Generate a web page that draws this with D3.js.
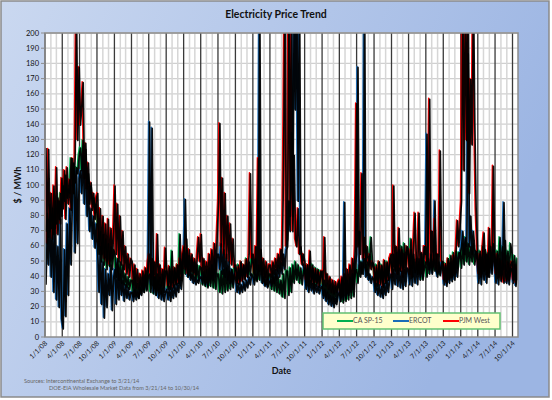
<!DOCTYPE html>
<html><head><meta charset="utf-8">
<script src="https://cdn.jsdelivr.net/npm/d3@7"></script>
<style>body{margin:0;} svg{display:block;font-family:Lato,"Open Sans",sans-serif;}</style>
</head><body><svg id="c" width="552" height="400"></svg>
<script>
// ---- data (weekly readings from 2008-01-01) ----
const startDate = "2008-01-01";
const endDate = "2014-10-30";
const stepDays = 7;
const seriesNames = ["CA SP-15", "ERCOT", "PJM West"];
const yTickValues = [0,10,20,30,40,50,60,70,80,90,100,110,120,130,140,150,160,170,180,190,200];

const pjmWest = [
125,62,124,70,95,65,100,72,112,68,90,75,105,
85,110,78,112,88,104,84,118,95,120,215,130,178,
140,153,168,105,128,98,115,88,102,84,95,78,92,
95,60,85,55,80,52,75,50,78,48,72,52,70,
100,55,88,50,80,48,70,45,60,42,55,40,52,
50,35,48,33,45,32,42,34,44,35,46,38,50,
55,40,52,38,50,36,68,35,48,34,45,33,59,
45,34,47,32,44,33,46,35,48,36,52,38,55,
60,45,65,42,58,44,55,43,52,41,54,66,50,
68,42,52,40,50,38,55,40,58,42,62,45,68,
90,141,60,105,55,95,52,80,50,75,48,65,46,
48,36,46,35,50,37,48,38,51,40,55,108,52,
55,42,60,45,118,44,58,42,52,40,50,38,48,
48,40,50,42,52,44,55,46,58,48,118,230,60,
65,230,80,230,70,120,65,60,85,55,60,48,55,
50,38,48,36,57,37,46,35,45,36,44,34,42,
44,35,66,34,42,32,40,30,38,29,37,30,36,
38,28,40,30,42,32,45,34,48,35,52,38,60,
154,60,70,55,108,52,66,50,60,48,55,45,50,
48,36,46,34,50,35,47,33,51,36,49,38,52,
55,40,100,45,60,42,72,44,58,40,55,42,60,
55,42,58,40,62,82,50,45,82,44,56,42,60,
60,48,75,157,50,70,48,78,46,55,44,123,50,
50,38,48,36,52,38,50,40,54,42,58,77,60,
75,90,230,110,230,130,230,95,170,127,230,141,85,
60,42,55,40,58,69,45,55,40,72,50,45,113,
58,42,55,40,52,38,50,36,48,37,50,38,48,
50,38,48,36,46,40];

const ercot = [
35,70,48,80,40,75,30,85,25,60,20,78,12,
6,58,14,75,28,85,48,98,115,56,110,62,105,
110,95,120,88,124,80,100,70,85,65,80,59,75,
55,30,60,22,50,13,45,20,42,28,48,18,40,
45,22,50,25,42,28,38,24,35,26,33,25,30,
30,24,32,25,30,26,33,28,36,30,40,32,45,
142,35,138,30,40,28,38,26,35,25,33,24,30,
32,25,34,24,33,26,35,27,36,30,40,32,42,
55,91,48,40,45,38,42,36,40,35,38,36,40,
40,36,42,35,40,34,45,36,48,38,52,40,55,
55,45,62,42,58,40,55,38,50,36,45,35,42,
38,30,36,29,35,30,37,31,38,33,40,35,42,
40,35,42,38,45,230,55,36,40,34,38,33,36,
38,34,40,36,45,38,48,40,50,42,55,45,58,
60,90,70,135,80,230,150,230,90,230,60,50,48,
42,32,40,30,38,31,36,29,35,30,34,29,33,
34,26,32,24,30,22,28,21,27,20,26,22,28,
30,24,32,25,89,26,36,28,38,30,42,32,48,
55,178,45,50,42,48,230,40,45,38,42,36,40,
38,30,36,28,35,27,34,26,36,28,38,30,40,
42,32,45,35,48,34,46,33,44,32,45,34,46,
45,35,48,34,50,36,48,35,52,38,55,40,60,
55,134,50,45,55,42,50,90,45,40,48,42,50,
44,35,42,34,45,36,46,37,48,38,50,40,52,
55,60,70,55,65,60,187,60,80,55,70,58,55,
50,36,48,35,52,38,50,36,54,40,56,42,58,
48,36,46,35,50,37,48,89,45,36,44,35,46,
45,36,44,34,42,38];

const caSP15 = [
70,82,66,88,72,85,68,90,75,92,78,95,80,
100,90,107,92,98,95,118,100,105,102,112,108,120,
125,110,130,105,118,100,108,95,100,88,92,82,88,
75,55,70,50,68,48,65,45,62,47,60,45,58,
55,40,52,38,50,36,48,35,42,33,40,32,38,
38,27,40,28,36,26,38,29,40,30,42,31,40,
42,30,44,29,40,28,42,30,40,29,42,30,44,
44,32,46,33,57,34,46,35,48,36,68,38,52,
55,42,58,40,54,40,52,40,50,38,48,38,47,
46,35,44,34,45,33,46,34,48,33,45,32,42,
42,30,44,29,45,30,46,31,44,32,45,33,46,
46,36,48,37,50,38,48,39,52,40,50,41,52,
50,38,52,37,48,38,50,36,46,35,44,34,42,
42,32,44,31,42,30,40,29,38,27,42,26,44,
44,28,46,30,48,36,50,38,48,36,46,35,44,
46,35,48,34,50,35,48,33,46,34,45,33,44,
40,28,38,27,36,26,35,25,34,24,33,24,34,
36,24,38,23,36,24,38,25,40,26,42,27,44,
45,36,48,40,50,42,52,44,50,42,54,66,48,
46,34,48,35,50,36,48,34,50,36,50,38,52,
50,42,55,44,56,43,58,45,60,46,62,48,60,
58,44,65,46,55,43,52,42,50,40,48,38,46,
50,40,52,42,54,43,55,44,52,42,50,41,49,
50,40,49,39,52,42,54,43,56,45,57,46,56,
56,46,62,48,66,50,62,48,60,50,62,48,57,
54,42,57,43,60,44,58,42,56,43,60,45,62,
54,43,57,44,66,46,60,45,64,44,57,43,62,
56,42,54,40,52,43];

const sourceLines = ["Sources: Intercontinental Exchange  to 3/21/14",
                     "DOE-EIA Wholesale Market Data from 3/21/14 to 10/30/14"];

// ---- drawing ----
const svg = d3.select("#c");
const W = 552, H = 400;
const m = {l:45, r:518, t:33, b:337};
const parse = d3.timeParse("%Y-%m-%d");
const t0 = parse(startDate), t1 = parse(endDate);

const x = d3.scaleTime().domain([t0, t1]).range([m.l, m.r]);
const y = d3.scaleLinear().domain([0, 200]).range([m.b, m.t]);

const defs = svg.append("defs");
const g = defs.append("linearGradient").attr("id","bg").attr("x1","0").attr("y1","0").attr("x2","1").attr("y2","0.35");
g.append("stop").attr("offset","0").attr("stop-color","#cad8f0");
g.append("stop").attr("offset","1").attr("stop-color","#9cb5e3");
defs.append("clipPath").attr("id","clip").append("rect")
  .attr("x",m.l).attr("y",m.t).attr("width",m.r-m.l).attr("height",m.b-m.t);

svg.append("rect").attr("x",1).attr("y",1).attr("width",W-4).attr("height",H-4)
  .attr("fill","url(#bg)").attr("stroke","#8a8a8a").attr("stroke-width",1.5);

svg.append("rect").attr("x",m.l).attr("y",m.t).attr("width",m.r-m.l).attr("height",m.b-m.t).attr("fill","#fff");

// horizontal gridlines
svg.append("g").selectAll("line").data(yTickValues.slice(1)).join("line")
  .attr("x1",m.l).attr("x2",m.r).attr("y1",d=>y(d)).attr("y2",d=>y(d))
  .attr("stroke","#d0d0d0").attr("stroke-width",1.3);

// vertical gridlines
const months = d3.timeMonth.range(d3.timeMonth.ceil(t0), t1);
const quarters = months.filter(d => d.getMonth() % 3 === 0);
svg.append("g").selectAll("line").data(months.filter(d=>d.getMonth()%3!==0)).join("line")
  .attr("x1",d=>x(d)).attr("x2",d=>x(d)).attr("y1",m.t).attr("y2",m.b)
  .attr("stroke","#d6d6d6").attr("stroke-width",1.5);
svg.append("g").selectAll("line").data(quarters).join("line")
  .attr("x1",d=>x(d)).attr("x2",d=>x(d)).attr("y1",m.t).attr("y2",m.b)
  .attr("stroke","#3a3a3a").attr("stroke-width",1.3);

// series
const colors = ["#00b050", "#1a6cb8", "#ff0000"];
const seriesVals = [caSP15, ercot, pjmWest];
const toPts = vals => vals.map((v,i) => [d3.timeDay.offset(t0, i*stepDays), v]);
const line = d3.line().x(d=>x(d[0])).y(d=>y(d[1]));
const sg = svg.append("g").attr("clip-path","url(#clip)");
seriesVals.forEach((vals,i) => {
  sg.append("path").attr("d", line(toPts(vals))).attr("fill","none")
    .attr("stroke",colors[i]).attr("stroke-width",1.5).attr("stroke-linejoin","round");
});
const shg = sg.append("g").attr("transform","translate(1,1)");
seriesVals.forEach((vals,i) => {
  shg.append("path").attr("d", line(toPts(vals))).attr("fill","none")
    .attr("stroke","#000").attr("stroke-width",1.7).attr("stroke-opacity",0.95).attr("stroke-linejoin","round");
});

// plot border
svg.append("rect").attr("x",m.l).attr("y",m.t).attr("width",m.r-m.l).attr("height",m.b-m.t)
  .attr("fill","none").attr("stroke","#8c8c8c").attr("stroke-width",1.5);

// y axis
const ya = svg.append("g");
ya.selectAll("line").data(yTickValues).join("line")
  .attr("x1",m.l-4).attr("x2",m.l).attr("y1",d=>y(d)).attr("y2",d=>y(d)).attr("stroke","#8c8c8c");
ya.selectAll("text").data(yTickValues).join("text")
  .attr("x",m.l-6).attr("y",d=>y(d)).attr("dy","0.35em").attr("text-anchor","end")
  .attr("font-size",7.5).attr("fill","#111").text(d=>d);

// x axis
const fmt = d3.timeFormat("%-m/%-d/%y");
const xa = svg.append("g");
xa.selectAll("text").data(quarters).join("text")
  .attr("transform",d=>`translate(${x(d)+1},${m.b+5}) rotate(-45)`)
  .attr("text-anchor","end").attr("dy","0.35em")
  .attr("font-size",6.8).attr("fill","#111").text(d=>fmt(d));

// titles
svg.append("text").attr("x",276).attr("y",17.5).attr("text-anchor","middle")
  .attr("font-size",10.5).attr("font-weight","bold").attr("fill","#111").text("Electricity Price Trend");
svg.append("text").attr("transform",`translate(21,${(m.t+m.b)/2}) rotate(-90)`).attr("text-anchor","middle")
  .attr("font-size",9).attr("font-weight","bold").attr("fill","#111").text("$ / MWh");
svg.append("text").attr("x",(m.l+m.r)/2).attr("y",374).attr("text-anchor","middle")
  .attr("font-size",9).attr("font-weight","bold").attr("fill","#111").text("Date");
svg.append("text").attr("x",24).attr("y",383).attr("font-size",5.6).attr("fill","#666").text(sourceLines[0]);
svg.append("text").attr("x",49).attr("y",390).attr("font-size",5.6).attr("fill","#666").text(sourceLines[1]);

// legend
const lg = svg.append("g");
lg.append("rect").attr("x",323).attr("y",313).attr("width",177).attr("height",16)
  .attr("fill","#ffffcc").attr("stroke","#62c072").attr("stroke-width",1.5);
const lx = [337, 393, 443];
seriesNames.forEach((n,i) => {
  lg.append("line").attr("x1",lx[i]).attr("x2",lx[i]+16).attr("y1",321).attr("y2",321)
    .attr("stroke",colors[i]).attr("stroke-width",2);
  lg.append("text").attr("x",lx[i]+16).attr("y",321).attr("dy","0.35em")
    .attr("font-size",7).attr("fill","#555").text(n);
});
</script></body></html>
